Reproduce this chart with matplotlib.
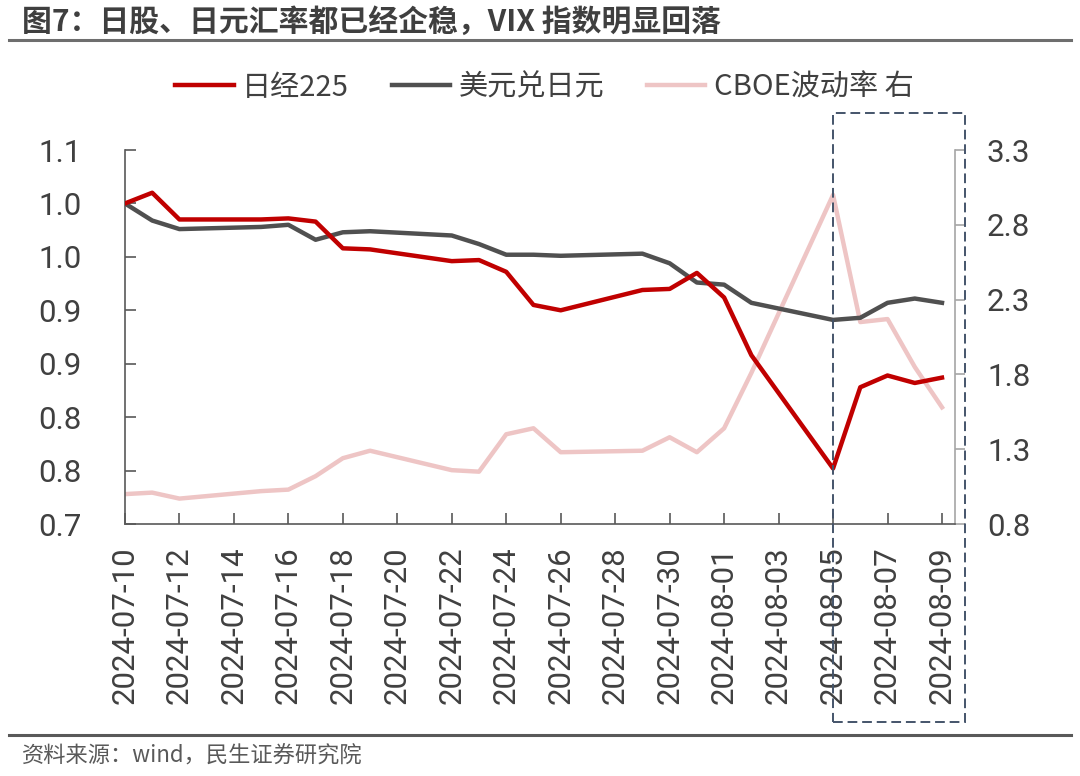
import numpy as np
import pandas as pd
import matplotlib
matplotlib.use("Agg")
import matplotlib.pyplot as plt
import matplotlib.dates as mdates
from matplotlib.lines import Line2D
from matplotlib.patches import Rectangle
from matplotlib.transforms import blended_transform_factory

plt.rcParams['font.family'] = ['Noto Sans CJK SC', 'DejaVu Sans']

# 数据（以 2024-07-10 为基准 = 1）
fechas = pd.to_datetime([
    "2024-07-10", "2024-07-11", "2024-07-12", "2024-07-15", "2024-07-16",
    "2024-07-17", "2024-07-18", "2024-07-19", "2024-07-22", "2024-07-23",
    "2024-07-24", "2024-07-25", "2024-07-26", "2024-07-29", "2024-07-30",
    "2024-07-31", "2024-08-01", "2024-08-02", "2024-08-05", "2024-08-06",
    "2024-08-07", "2024-08-08", "2024-08-09",
])
nikkei = [1.000, 1.010, 0.985, 0.985, 0.986, 0.983, 0.958, 0.957, 0.946, 0.947,
          0.936, 0.905, 0.900, 0.919, 0.920, 0.935, 0.912, 0.858, 0.752, 0.828,
          0.839, 0.832, 0.837]
usdjpy = [1.000, 0.984, 0.976, 0.978, 0.980, 0.966, 0.973, 0.974, 0.970, 0.962,
          0.952, 0.952, 0.951, 0.953, 0.944, 0.926, 0.924, 0.907, 0.891, 0.893,
          0.907, 0.911, 0.907]
vix = [1.00, 1.01, 0.97, 1.02, 1.03, 1.12, 1.24, 1.29, 1.16, 1.15,
       1.40, 1.44, 1.28, 1.29, 1.38, 1.28, 1.44, 1.81, 3.00, 2.15,
       2.17, 1.85, 1.58]

left_ticks = [0.70, 0.75, 0.80, 0.85, 0.90, 0.95, 1.00, 1.05]
left_labels = ['0.7', '0.8', '0.8', '0.9', '0.9', '1.0', '1.0', '1.1']
right_ticks = [0.8, 1.3, 1.8, 2.3, 2.8, 3.3]

rojo = '#C00000'
gris = '#505050'
rosa = '#EEC5C5'
txt = '#404040'
fuente_num = ['Roboto', 'Noto Sans CJK SC']

fig = plt.figure(figsize=(10.8, 7.76), dpi=100)
ax = fig.add_axes([0.1157, 0.3247, 0.7686, 0.482])
ax2 = ax.twinx()

ax2.plot(fechas, vix, color=rosa, lw=3.2, label='CBOE波动率 右', zorder=1)
ax.plot(fechas, nikkei, color=rojo, lw=3.2, label='日经225', zorder=3)
ax.plot(fechas, usdjpy, color=gris, lw=3.2, label='美元兑日元', zorder=2)
ax.set_zorder(ax2.get_zorder() + 1)
ax.patch.set_visible(False)

ax.set_xlim(fechas[0], fechas[-1] + pd.Timedelta(hours=11.5))
ax.set_ylim(0.70, 1.05)
ax2.set_ylim(0.8, 3.3)

ax.set_yticks(left_ticks)
ax.set_yticklabels(left_labels)
ax2.set_yticks(right_ticks)
ax2.set_yticklabels([f'{v:.1f}' for v in right_ticks])

ax.set_xticks(pd.date_range(fechas[0], fechas[-1], freq='2D'))
ax.xaxis.set_major_formatter(mdates.DateFormatter('%Y-%m-%d'))
for lab in ax.get_xticklabels():
    lab.set_rotation(90)

ax.tick_params(axis='x', direction='in', length=8, width=1.2, colors='#595959',
               labelcolor=txt, labelsize=22.5, pad=16)
ax.tick_params(axis='y', direction='in', length=8, width=1.2, colors='#595959',
               labelcolor=txt, labelsize=22.5, pad=31)
ax2.tick_params(axis='y', direction='out', length=7, width=1.2, colors='#A6A6A6',
                labelcolor=txt, labelsize=22.5, pad=16)
for lab in ax.get_xticklabels() + ax.get_yticklabels() + ax2.get_yticklabels():
    lab.set_family(fuente_num)

for s in ['top', 'right']:
    ax.spines[s].set_visible(False)
ax.spines['left'].set_color('#595959')
ax.spines['bottom'].set_color('#595959')
ax.spines['left'].set_linewidth(1.2)
ax.spines['bottom'].set_linewidth(1.2)
for s in ['top', 'left', 'bottom']:
    ax2.spines[s].set_visible(False)
ax2.spines['right'].set_color('#A6A6A6')
ax2.spines['right'].set_linewidth(1.2)

h1, l1 = ax.get_legend_handles_labels()
h2, l2 = ax2.get_legend_handles_labels()
fig.legend(h1 + h2, l1 + l2, loc='center', bbox_to_anchor=(0.504, 0.887), ncol=3,
           frameon=False, fontsize=21, handlelength=2.0, columnspacing=1.45,
           handletextpad=0.3, labelcolor=txt)

# 虚线框
tr = blended_transform_factory(ax.transData, fig.transFigure)
x0 = mdates.date2num(pd.Timestamp('2024-08-05'))
ax.add_patch(Rectangle((x0, 0.0696), 4.85, 0.7848, transform=tr, fill=False,
                       ls=(0, (5, 2.5)), lw=1.4, ec='#44546A', clip_on=False, zorder=5))

# 标题与来源
fig.text(0.02, 0.972, '图7：日股、日元汇率都已经企稳，VIX 指数明显回落', fontsize=21.5,
         fontweight='bold', color='#3F3F3F', va='center', ha='left')
fig.add_artist(Line2D([0.008, 0.992], [0.948, 0.948], transform=fig.transFigure,
                      color='#6E6E6E', lw=2.2))
fig.add_artist(Line2D([0.008, 0.992], [0.053, 0.053], transform=fig.transFigure,
                      color='#595959', lw=2.2))
fig.text(0.02, 0.026, '资料来源：wind，民生证券研究院', fontsize=16, color='#595959',
         va='center', ha='left')

fig.savefig('out.png', dpi=100)
